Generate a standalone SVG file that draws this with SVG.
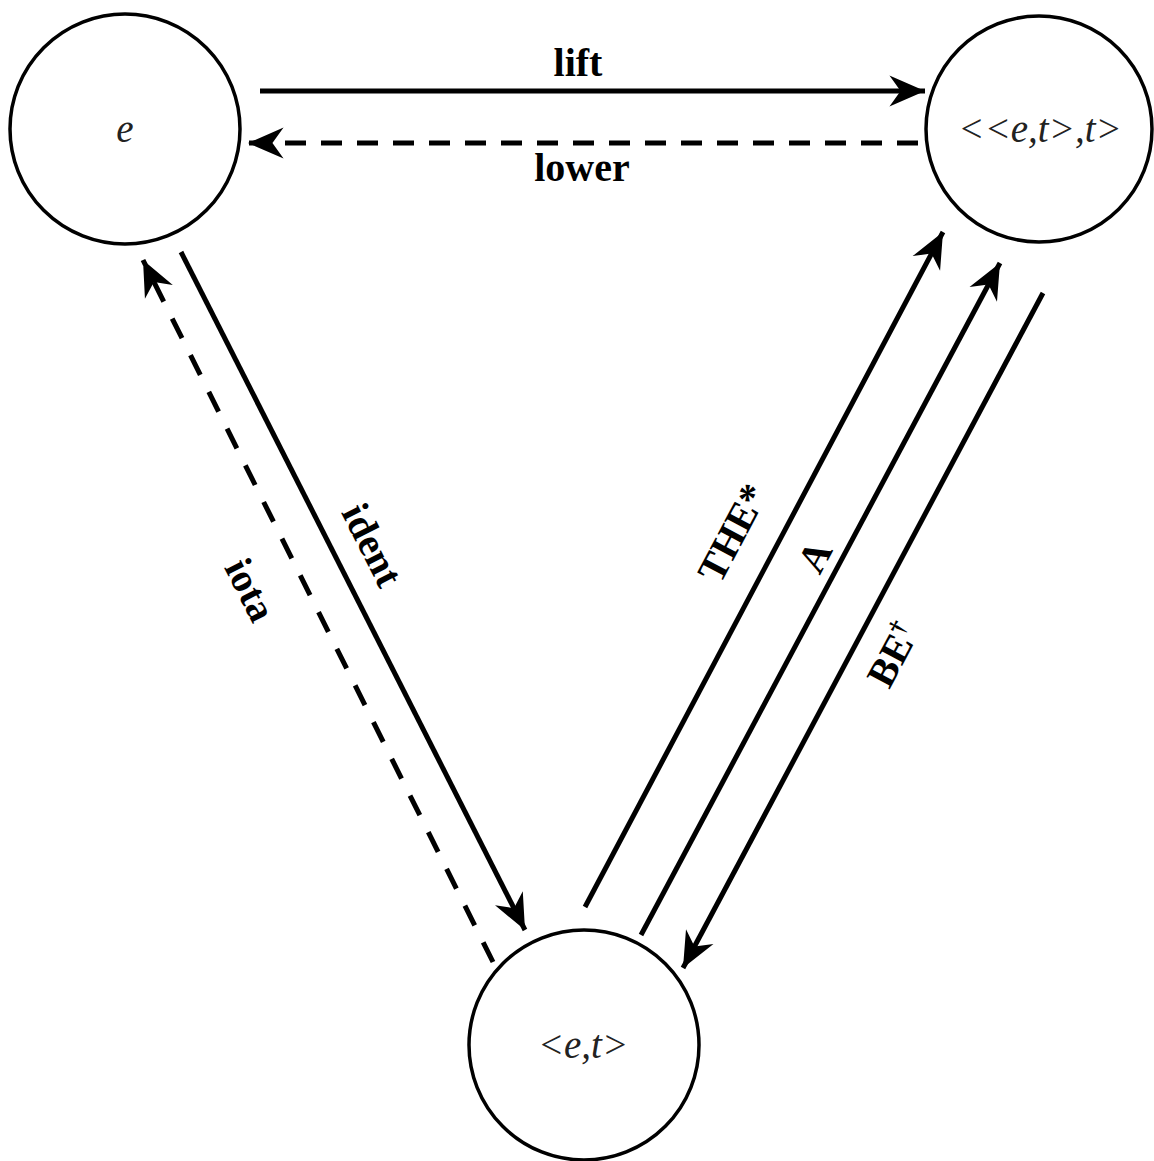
<svg xmlns="http://www.w3.org/2000/svg" width="1154" height="1161" viewBox="0 0 1154 1161">
<style>
.node{fill:#fff;stroke:#000;stroke-width:3.5}
.nt{font-family:"Liberation Serif","Times New Roman",serif;font-style:italic;font-size:39px;fill:#222;text-anchor:middle}
.lb{font-family:"Liberation Serif","Times New Roman",serif;font-weight:bold;font-size:40px;fill:#000;text-anchor:middle}
.e{fill:none;stroke:#000;stroke-width:5;marker-end:url(#ah)}
.d{stroke-dasharray:21 15}
.d2{stroke-dasharray:22 19}
</style>
<defs>
<marker id="ah" markerUnits="userSpaceOnUse" markerWidth="40" markerHeight="40" viewBox="-34 -17 36 34" refX="0" refY="0" orient="auto">
<path d="M0,0 L-32,-14 L-22,0 L-32,14 Z" fill="#000"/>
</marker>
</defs>
<rect width="1154" height="1161" fill="#fff"/>
<g id="node-e">
<circle class="node" cx="125" cy="129" r="115"/>
<text class="nt" x="125" y="142">e</text>
</g>
<g id="node-eet">
<circle class="node" cx="1039" cy="129" r="113"/>
<text class="nt" x="1040" y="142">&lt;&lt;e,t&gt;,t&gt;</text>
</g>
<g id="node-et">
<circle class="node" cx="584" cy="1045" r="115"/>
<text class="nt" x="583" y="1058">&lt;e,t&gt;</text>
</g>
<g id="connectors">
<line class="e" x1="260" y1="91" x2="925" y2="91"/>
<line class="e d" x1="918" y1="143" x2="248" y2="143"/>
<line class="e" x1="181" y1="252" x2="525" y2="930"/>
<line class="e d2" x1="493" y1="962" x2="143" y2="260"/>
<line class="e" x1="585" y1="907" x2="943" y2="232"/>
<line class="e" x1="641" y1="935" x2="1000" y2="263"/>
<line class="e" x1="1043" y1="293" x2="683" y2="968"/>
<text class="lb" x="578" y="76">lift</text>
<text class="lb" x="582" y="181">lower</text>
<text class="lb" transform="translate(372,545) rotate(63)" y="13">ident</text>
<text class="lb" transform="translate(250,590) rotate(63)" y="13">iota</text>
<text class="lb" transform="translate(733,533) rotate(-62)" y="13">THE*</text>
<text class="lb" transform="translate(815,557) rotate(-62)" y="13">A</text>
<text class="lb" transform="translate(893,655) rotate(-62)" y="13">BE<tspan font-size="24" dy="-14">†</tspan></text>
</g>
</svg>
